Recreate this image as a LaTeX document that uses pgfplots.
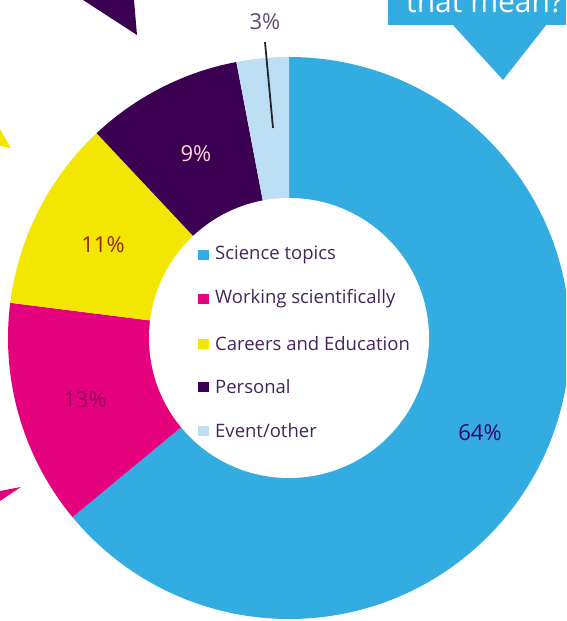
\documentclass[border=0pt]{standalone}
\usepackage{pgfplots}
\pgfplotsset{compat=1.18}
\usepackage{pgfplotstable}
\usepackage{fontspec}
\setmainfont{Open Sans}
\usetikzlibrary{calc}

\definecolor{sci}{HTML}{33ACE1}
\definecolor{work}{HTML}{E5007D}
\definecolor{car}{HTML}{F3E600}
\definecolor{pers}{HTML}{3C0052}
\definecolor{evt}{HTML}{BCDFF4}
\definecolor{legtxt}{HTML}{45265A}

\tikzset{leg/.style={anchor=west, inner sep=0pt, text=legtxt, font=\fontsize{18.5}{22}\selectfont},
  pct/.style={font=\fontsize{22}{26}\selectfont}}

% share in percent, clockwise from 12 o'clock
\pgfplotstableread[col sep=comma]{
share,col
64,sci
13,work
11,car
9,pers
3,evt
}\slices

\begin{document}
\begin{tikzpicture}
\begin{axis}[
    hide axis,
    x=1pt, y=1pt,
    xmin=0, xmax=566,
    ymin=0, ymax=621,
    clip=true,
]
% donut
\pgfplotsextra{
  \coordinate (C) at (axis cs:289,283);
  \xdef\angA{90}
  \pgfplotstableforeachcolumnelement{share}\of\slices\as\val{%
    \pgfplotstablegetelem{\pgfplotstablerow}{col}\of\slices
    \let\slicecol\pgfplotsretval
    \pgfmathsetmacro\angB{\angA-3.6*\val}
    \fill[\slicecol] (C) -- ++(\angA:281pt)
        arc[start angle=\angA, end angle=\angB, radius=281pt] -- cycle;
    \xdef\angA{\angB}
  }
  \fill[white] (C) circle[radius=140pt];
}

% callout pieces around the chart
\fill[pers] (axis cs:83,621) -- (axis cs:134,621) -- (axis cs:137,586) -- cycle;
\fill[car] (axis cs:0,492) -- (axis cs:11,473) -- (axis cs:0,475) -- cycle;
\fill[work] (axis cs:0,130) -- (axis cs:21,134) -- (axis cs:0,120) -- cycle;
\fill[sci] (axis cs:388,596) rectangle (axis cs:566,625);
\fill[sci] (axis cs:452,597) -- (axis cs:547,597) -- (axis cs:503,541) -- cycle;
\node[anchor=base west, text=white, font=\fontsize{30}{34}\selectfont, inner sep=0pt]
  at (axis cs:406,608) {that mean?};

% slice labels
\node[pct, text=legtxt!85] at (axis cs:265,599) {3\%};
\draw[line width=1.8pt, black!85] (axis cs:265,579) -- (axis cs:273,493);
\node[pct, text=pink!60!white] at (axis cs:196,467) {9\%};
\node[pct, text=black!70!car!60!red] at (axis cs:103,376) {11\%};
\node[pct, text=work!55!pers] at (axis cs:85,221) {13\%};
\node[pct, text=pers!80!blue] at (axis cs:480,188) {64\%};

% legend in the hole
\fill[sci]  (axis cs:198,361) rectangle (axis cs:209,371);
\node[leg] at (axis cs:215,366) {Science topics};
\fill[work] (axis cs:198,317) rectangle (axis cs:209,327);
\node[leg] at (axis cs:215,322) {Working scientifically};
\fill[car]  (axis cs:198,272) rectangle (axis cs:209,282);
\node[leg] at (axis cs:215,277) {Careers and Education};
\fill[pers] (axis cs:198,229) rectangle (axis cs:209,239);
\node[leg] at (axis cs:215,234) {Personal};
\fill[evt]  (axis cs:198,185) rectangle (axis cs:209,195);
\node[leg] at (axis cs:215,190) {Event/other};

\coordinate (sw) at (axis cs:0,0);
\coordinate (ne) at (axis cs:566,621);
\end{axis}
\pgfresetboundingbox
\useasboundingbox (sw) rectangle (ne);
\end{tikzpicture}
\end{document}
